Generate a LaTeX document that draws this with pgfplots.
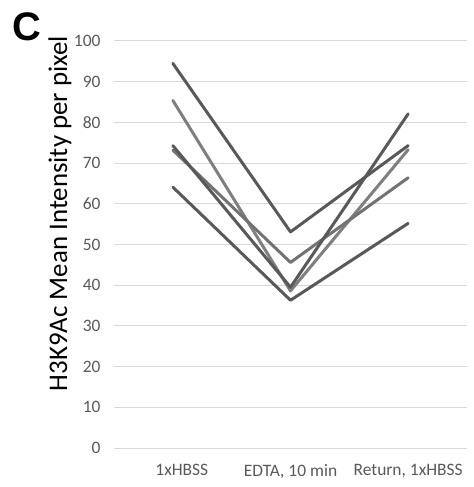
\documentclass[border=0pt]{standalone}
\usepackage{pgfplots}
\pgfplotsset{compat=1.18}
\usepackage{fontspec}
\setmainfont{Carlito}
\newfontfamily\arialfont{Liberation Sans}
\definecolor{dk}{HTML}{595959}
\definecolor{md}{HTML}{7F7F7F}
\definecolor{br}{HTML}{767171}
\definecolor{gridc}{HTML}{D9D9D9}
\begin{document}
\begin{tikzpicture}
\begin{axis}[
  at={(0,0)}, anchor=south west,
  width=353bp, height=407bp, scale only axis,
  xmin=-0.5, xmax=2.5, ymin=0, ymax=100,
  axis line style={draw=none},
  xtick={0,1,2},
  xticklabels={\hspace{18bp}1xHBSS, {EDTA, 10 min\hspace{5bp}}, {Return, 1xHBSS\hspace{12bp}}},
  ytick={0,10,...,100},
  major tick length=0pt,
  xmajorgrids=false,
  ymajorgrids=true, major grid style={draw=gridc, line width=1bp},
  /pgf/number format/assume math mode=true,
  yticklabel style={font=\fontsize{17.5}{20}\selectfont, text=dk, xshift=-10bp},
  xticklabel style={font=\fontsize{17.5}{20}\selectfont, text=dk, yshift=-13bp},
  ylabel={H3K9Ac Mean Intensity per pixel},
  ylabel style={font=\fontsize{27}{30}\selectfont, at={(axis description cs:-0.153,0.576)}, anchor=center, rotate=0},
  clip=false,
]
\addplot[dk, line width=3bp, line join=round, line cap=round] coordinates {(0,94.5) (1,53.1) (2,74.3)};
\addplot[md, line width=3bp, line join=round, line cap=round] coordinates {(0,85.4) (1,38.6) (2,73.3)};
\addplot[br, line width=3bp, line join=round, line cap=round] coordinates {(0,73.2) (1,45.6) (2,66.4)};
\addplot[dk, line width=3bp, line join=round, line cap=round] coordinates {(0,74.3) (1,39.5) (2,82.1)};
\addplot[dk, line width=3bp, line join=round, line cap=round] coordinates {(0,64.1) (1,36.3) (2,55.2)};
\end{axis}
\node[anchor=north west, inner sep=0pt, font=\arialfont\bfseries\fontsize{40}{44}\selectfont] at (-102bp,436bp) {C};
\pgfresetboundingbox
\useasboundingbox (-114bp,-39bp) rectangle (360bp,448bp);
\end{tikzpicture}
\end{document}
